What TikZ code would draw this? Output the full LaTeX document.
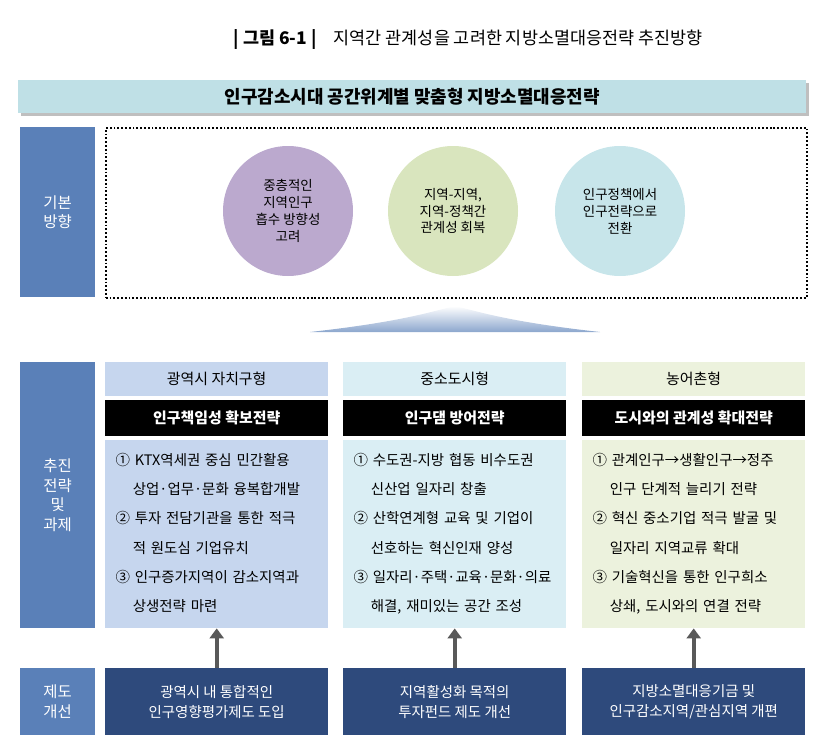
\documentclass[tikz,border=0pt]{standalone}
\usepackage{fontspec}
\setmainfont{Noto Sans CJK KR}
\usetikzlibrary{shadows,arrows.meta}
\definecolor{lblue}{HTML}{5A80B8}
\definecolor{banner}{HTML}{BFE0E6}
\definecolor{cpur}{HTML}{BBA9CE}
\definecolor{cgrn}{HTML}{D9E5BE}
\definecolor{cteal}{HTML}{C7E5EA}
\definecolor{c1}{HTML}{C6D6EE}
\definecolor{c2}{HTML}{DAEEF4}
\definecolor{c3}{HTML}{ECF2DD}
\definecolor{navy}{HTML}{2E4A7C}
\tikzset{
 lab/.style={fill=lblue,text=white,font=\fontsize{15.5}{20}\selectfont,align=center,anchor=north west,inner sep=0},
 circ/.style={circle,minimum size=130bp,inner sep=0,align=center,font=\fontsize{13.5}{17}\selectfont},
 hdr/.style={anchor=north west,minimum width=223bp,minimum height=34bp,inner sep=0,font=\fontsize{15}{18}\selectfont},
 blk/.style={fill=black,text=white,anchor=north west,minimum width=223bp,minimum height=36bp,inner sep=0,font=\bfseries\fontsize{15}{18}\selectfont},
 body/.style={anchor=north west,minimum width=223bp,minimum height=188bp,inner sep=0},
 btxt/.style={anchor=north west,align=left,font=\fontsize{14.5}{29.2}\selectfont,text width=215bp},
 bot/.style={fill=navy,text=white,anchor=north west,minimum width=223bp,minimum height=67bp,inner sep=0,align=center,font=\fontsize{14.5}{20}\selectfont},
 uparr/.style={-{Triangle[length=10bp,width=14bp]},line width=4bp,draw=gray!70!black}
}
\begin{document}
\begin{tikzpicture}[x=1bp,y=-1bp]
\useasboundingbox (0,0) rectangle (834,756);
\node (title) at (468,40) {\fontsize{17.5}{21}\selectfont\textbf{| 그림 6-1 |}\quad 지역간 관계성을 고려한 지방소멸대응전략 추진방향};
\node[fill=banner,drop shadow,anchor=north west,minimum width=788bp,minimum height=33bp,inner sep=0,font=\bfseries\fontsize{18}{21}\selectfont] (ban) at (18,80) {인구감소시대 공간위계별 맞춤형 지방소멸대응전략};
\node[lab,minimum width=75bp,minimum height=170bp] (l1) at (20,127) {기본\\방향};
\node[lab,minimum width=75bp,minimum height=266bp] (l2) at (20,362) {추진\\전략\\및\\과제};
\node[lab,minimum width=75bp,minimum height=67bp] (l3) at (20,668) {제도\\개선};
\node[draw,dotted,line width=1.8bp,anchor=north west,minimum width=701bp,minimum height=170bp,inner sep=0] (dot) at (105,127) {};
\node[circ,fill=cpur] (a) at (288,211) {중층적인\\지역인구\\흡수 방향성\\고려};
\node[circ,fill=cgrn] (b) at (453,211) {지역-지역,\\지역-정책간\\관계성 회복};
\node[circ,fill=cteal] (c) at (620,211) {인구정책에서\\인구전략으로\\전환};
\shade[top color=white,bottom color=lblue!70] (310,332) .. controls (400,322) and (430,312) .. (455,306) .. controls (480,312) and (510,322) .. (600,332) -- cycle;
\foreach \n/\x/\col/\h/\k/\bb in {1/105/c1/광역시 자치구형/인구책임성 확보전략/{광역시 내 통합적인\\인구영향평가제도 도입},2/343/c2/중소도시형/인구댐 방어전략/{지역활성화 목적의\\투자펀드 제도 개선},3/582/c3/농어촌형/도시와의 관계성 확대전략/{지방소멸대응기금 및\\인구감소지역/관심지역 개편}}{
 \node[hdr,fill=\col] (h\n) at (\x,362) {\h};
 \node[blk] (k\n) at (\x,400) {\k};
 \node[body,fill=\col] (b\n) at (\x,440) {};
 \node[bot] (m\n) at (\x,668) {\bb};
 \draw[uparr] (m\n.north) -- (b\n.south);
}
\node[btxt] (t1) at (112,450) {① KTX역세권 중심 민간활용\\\hspace*{1.2em}상업·업무·문화 융복합개발\\② 투자 전담기관을 통한 적극\\\hspace*{1.2em}적 원도심 기업유치\\③ 인구증가지역이 감소지역과\\\hspace*{1.2em}상생전략 마련};
\node[btxt] (t2) at (350,450) {① 수도권-지방 협동 비수도권\\\hspace*{1.2em}신산업 일자리 창출\\② 산학연계형 교육 및 기업이\\\hspace*{1.2em}선호하는 혁신인재 양성\\③ 일자리·주택·교육·문화·의료\\\hspace*{1.2em}해결, 재미있는 공간 조성};
\node[btxt] (t3) at (589,450) {① 관계인구→생활인구→정주\\\hspace*{1.2em}인구 단계적 늘리기 전략\\② 혁신 중소기업 적극 발굴 및\\\hspace*{1.2em}일자리 지역교류 확대\\③ 기술혁신을 통한 인구희소\\\hspace*{1.2em}상쇄, 도시와의 연결 전략};
\end{tikzpicture}
\end{document}
